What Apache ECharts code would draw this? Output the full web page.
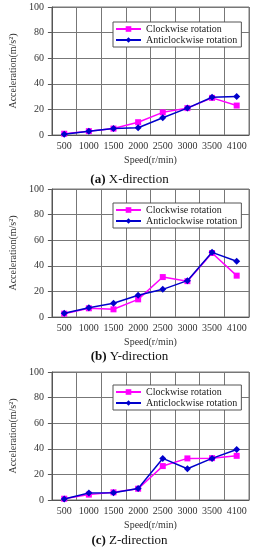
<!DOCTYPE html>
<html><head><meta charset="utf-8">
<script src="https://cdn.jsdelivr.net/npm/echarts@6/dist/echarts.min.js"></script>
<style>html,body{margin:0;padding:0;background:#fff}#c{width:259px;height:550px}</style>
</head><body><div id="c"></div>
<script>
var categories = ['500','1000','1500','2000','2500','3000','3500','4100'];
var seriesNames = ['Clockwise rotation','Anticlockwise rotation'];
var xCw  = [1, 3, 5, 10, 17.7, 21, 29, 23];
var xAcw = [0.5, 3, 5, 5.7, 13.5, 21, 29.5, 30];
var yCw  = [2.6, 6.8, 6, 13.8, 31.2, 28, 50, 32.3];
var yAcw = [2.9, 7.3, 10.7, 17, 21.6, 28.4, 50.5, 43.5];
var zCw  = [1, 4.2, 6, 8.8, 26.5, 32.5, 32.7, 34.5];
var zAcw = [0.8, 5.5, 5.7, 9, 32.5, 24.4, 32.5, 39.5];
var captionsTag = ['(a)','(b)','(c)'];
var captionsText = ['X-direction','Y-direction','Z-direction'];
var yTicks = {min:0, max:100, interval:20};
var xLabel = 'Speed(r/min)';
var yLabel = 'Acceleration(m/s\u00B2)';

var panels = [
  {top:7, cw:xCw, acw:xAcw, legendTop:22, capY:181},
  {top:189, cw:yCw, acw:yAcw, legendTop:203, capY:358},
  {top:372, cw:zCw, acw:zAcw, legendTop:385, capY:542}
];
var font = '"Liberation Serif","DejaVu Serif",serif';
var grid=[], xAxis=[], yAxis=[], series=[], legend=[], graphic=[];
panels.forEach(function(p,i){
  grid.push({left:35, top:p.top, width:214, height:128, show:true, borderColor:'#777', borderWidth:1, backgroundColor:'#fff'});
  xAxis.push({type:'category', gridIndex:i, data:categories, boundaryGap:true,
    axisLine:{lineStyle:{color:'#555'}}, axisTick:{show:false, interval:0},
    splitLine:{show:true, interval:0, lineStyle:{color:'#777', width:1}},
    axisLabel:{color:'#333', fontFamily:font, fontSize:10, margin:6, interval:0},
    name:xLabel, nameLocation:'middle', nameGap:20,
    nameTextStyle:{color:'#333', fontFamily:font, fontSize:10}});
  yAxis.push({type:'value', gridIndex:i, min:yTicks.min, max:yTicks.max, interval:yTicks.interval,
    axisLine:{show:true, lineStyle:{color:'#555'}}, axisTick:{show:true, length:4, lineStyle:{color:'#555'}},
    splitLine:{show:true, lineStyle:{color:'#777', width:1}},
    axisLabel:{color:'#333', fontFamily:font, fontSize:10, margin:8},
    name:yLabel, nameLocation:'middle', nameGap:24,
    nameTextStyle:{color:'#333', fontFamily:font, fontSize:10}});
  series.push({name:seriesNames[0], type:'line', xAxisIndex:i, yAxisIndex:i, data:p.cw,
    symbol:'rect', symbolSize:6, color:'#FF00FF', lineStyle:{width:1.5, color:'#FF00FF'},
    itemStyle:{color:'#FF00FF'}, z:2});
  series.push({name:seriesNames[1], type:'line', xAxisIndex:i, yAxisIndex:i, data:p.acw,
    symbol:'diamond', symbolSize:7, color:'#0000CC', lineStyle:{width:1.5, color:'#0000CC'},
    itemStyle:{color:'#0000CC'}, z:3});
  legend.push({data:seriesNames, orient:'vertical', left:113, top:p.legendTop,
    padding:[2,4,2,2], itemGap:1, itemWidth:25, itemHeight:7,
    backgroundColor:'#fff', borderColor:'#555', borderWidth:1,
    textStyle:{fontFamily:font, fontSize:10, color:'#222'},
    selectedMode:false});
  graphic.push({type:'text', left:'center', top:p.capY-8, style:{
    text:'{b|'+captionsTag[i]+'} '+captionsText[i],
    rich:{b:{fontWeight:'bold', fontFamily:font, fontSize:13, fill:'#111'}},
    fontFamily:font, fontSize:13, fill:'#111'}});
});
var chart = echarts.init(document.getElementById('c'), null, {renderer:'canvas'});
chart.setOption({animation:false, backgroundColor:'#fff', grid:grid, xAxis:xAxis, yAxis:yAxis,
  series:series, legend:legend, graphic:graphic});
</script></body></html>
